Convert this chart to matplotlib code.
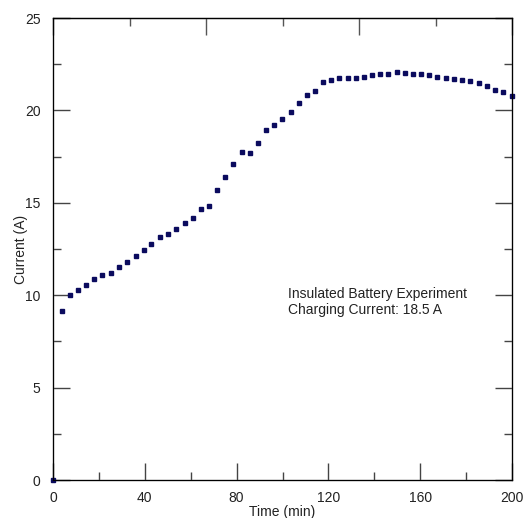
import matplotlib
matplotlib.use('Agg')
import matplotlib.pyplot as plt
from matplotlib.ticker import MultipleLocator

plt.rcParams['font.family'] = ['Liberation Sans', 'DejaVu Sans']

# readings
time_min = [0, 3.9, 7.4, 10.7, 14.5, 18.0, 21.5, 25.3, 28.8, 32.2,
            36.0, 39.5, 42.8, 46.6, 50.1, 53.6, 57.4, 60.8, 64.4, 67.8,
            71.5, 74.9, 78.4, 82.2, 85.7, 89.2, 92.9, 96.4, 99.9, 103.7,
            107.2, 110.7, 114.2, 117.8, 121.3, 124.8, 128.5, 132.0, 135.5, 139.1,
            142.6, 146.1, 149.7, 153.2, 156.9, 160.5, 164.0, 167.5, 171.1, 174.6,
            178.2, 181.8, 185.5, 189.0, 192.5, 196.1, 199.9]
current_a = [0, 9.16, 10.01, 10.26, 10.55, 10.88, 11.07, 11.22, 11.51, 11.80,
             12.12, 12.46, 12.75, 13.17, 13.33, 13.60, 13.89, 14.18, 14.66, 14.81,
             15.71, 16.40, 17.10, 17.77, 17.71, 18.25, 18.92, 19.21, 19.53, 19.93,
             20.40, 20.83, 21.03, 21.55, 21.65, 21.74, 21.74, 21.78, 21.83, 21.93,
             21.99, 21.99, 22.06, 22.05, 21.99, 21.99, 21.92, 21.82, 21.77, 21.72,
             21.63, 21.57, 21.46, 21.32, 21.12, 21.00, 20.78]
note = 'Insulated Battery Experiment\nCharging Current: 18.5 A'

fig = plt.figure(figsize=(5.26, 5.18), dpi=100)
ax = fig.add_axes([53 / 526, 38 / 518, 459 / 526, 462 / 518])

ax.plot(time_min, current_a, 's', color='#0b0b5e', markersize=3.2, clip_on=False, zorder=5)

ax.set_xlim(0, 200)
ax.set_ylim(0, 25)
ax.xaxis.set_major_locator(MultipleLocator(40))
ax.xaxis.set_minor_locator(MultipleLocator(20))
ax.yaxis.set_major_locator(MultipleLocator(5))
ax.yaxis.set_minor_locator(MultipleLocator(2.5))

grey = '#666666'
for s in ['left', 'bottom', 'right']:
    ax.spines[s].set_color(grey)
ax.spines['top'].set_color('#222222')
for s in ax.spines.values():
    s.set_linewidth(1.0)

ax.tick_params(which='both', direction='in', color='#444444', width=1.0,
               labelsize=10, labelcolor='#222222', right=True)
ax.tick_params(which='major', length=12)
ax.tick_params(which='minor', length=6)
ax.tick_params(axis='y', pad=9)
ax.tick_params(axis='x', pad=8)

# top axis has its own tick spacing, no labels
top = ax.twiny()
top.set_xlim(0, 6)
top.xaxis.set_major_locator(MultipleLocator(2))
top.xaxis.set_minor_locator(MultipleLocator(1))
top.tick_params(which='both', direction='in', color='#555555', width=1.0,
                labeltop=False)
top.tick_params(which='major', length=12)
top.tick_params(which='minor', length=6)

ax.set_xlabel('Time (min)', fontsize=10, color='#222222', labelpad=0)
ax.set_ylabel('Current (A)', fontsize=10, color='#222222', labelpad=-2)

ax.text(102.5, 10.45, note, fontsize=10, color='#222222', va='top', ha='left',
        linespacing=1.15)

fig.savefig('out.png', dpi=100)
